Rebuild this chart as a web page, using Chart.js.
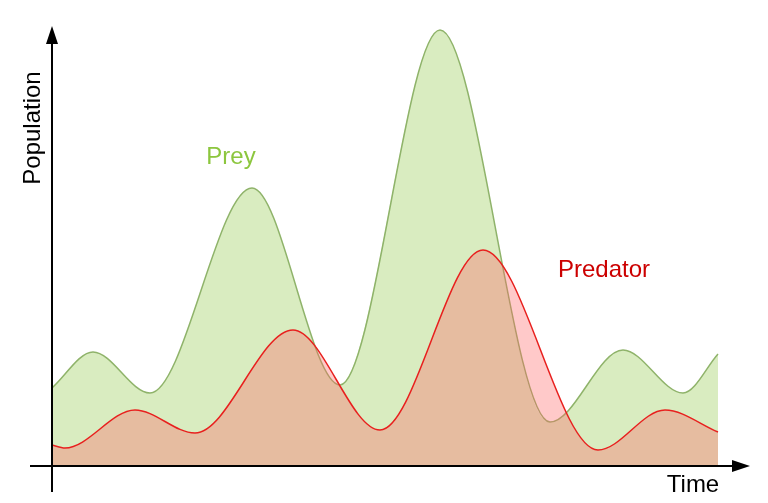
<!DOCTYPE html><html><head><script src="https://cdn.jsdelivr.net/npm/chart.js@4"></script>
<style>html,body{margin:0;background:#fff}#w{width:768px;height:503px}</style></head><body><div id="w"><canvas id="c"></canvas></div><script>
const preyT=[0,41,98,200,288,388,498,571,631,666];
const preyV=[78,114,73,278,81,436,44,116,73,112];
const predT=[0,13,83,143,241,328,431,546,613,666];
const predV=[21,18,56,33,136,36,216,16,56,34];
const labels={x:'Time',y:'Population',prey:'Prey',pred:'Predator'};
const pts=(t,v)=>t.map((x,i)=>({x,y:v[i]}));
const deco={id:'deco',afterDraw(ch){const c=ch.ctx,xs=ch.scales.x,ys=ch.scales.y;
const x0=xs.getPixelForValue(0),y0=ys.getPixelForValue(0),xe=xs.right,yt=ys.top;
c.save();c.strokeStyle='#000';c.fillStyle='#000';c.lineWidth=2;
c.beginPath();c.moveTo(x0,492);c.lineTo(x0,yt+12);c.moveTo(30,y0);c.lineTo(xe-12,y0);c.stroke();
c.beginPath();c.moveTo(x0,yt);c.lineTo(x0-6,yt+18);c.lineTo(x0+6,yt+18);c.fill();
c.beginPath();c.moveTo(xe,y0);c.lineTo(xe-18,y0-6);c.lineTo(xe-18,y0+6);c.fill();
c.font='24px "Liberation Sans"';c.textAlign='center';c.textBaseline='middle';
c.fillText(labels.x,693,485);
c.save();c.translate(33,128);c.rotate(-Math.PI/2);c.fillText(labels.y,0,0);c.restore();
c.fillStyle='#8cc63e';c.fillText(labels.prey,231,157);
c.fillStyle='#cc0000';c.fillText(labels.pred,604,270);
c.restore();}};
new Chart(document.getElementById('c'),{type:'line',data:{datasets:[
{data:pts(predT,predV),borderColor:'#e8201e',borderWidth:1.5,backgroundColor:'rgba(255,100,100,0.35)',fill:'origin',pointRadius:0,cubicInterpolationMode:'monotone',order:0},
{data:pts(preyT,preyV),borderColor:'#8fb36a',borderWidth:1.5,backgroundColor:'#d9ecc0',fill:'origin',pointRadius:0,cubicInterpolationMode:'monotone',order:1}
]},options:{animation:false,responsive:true,maintainAspectRatio:false,
layout:{padding:{left:52,top:26,right:18,bottom:37}},
plugins:{legend:{display:false},tooltip:{enabled:false}},
scales:{x:{type:'linear',min:0,max:698,display:false},y:{min:0,max:440,display:false}}},plugins:[deco]});
</script></body></html>
